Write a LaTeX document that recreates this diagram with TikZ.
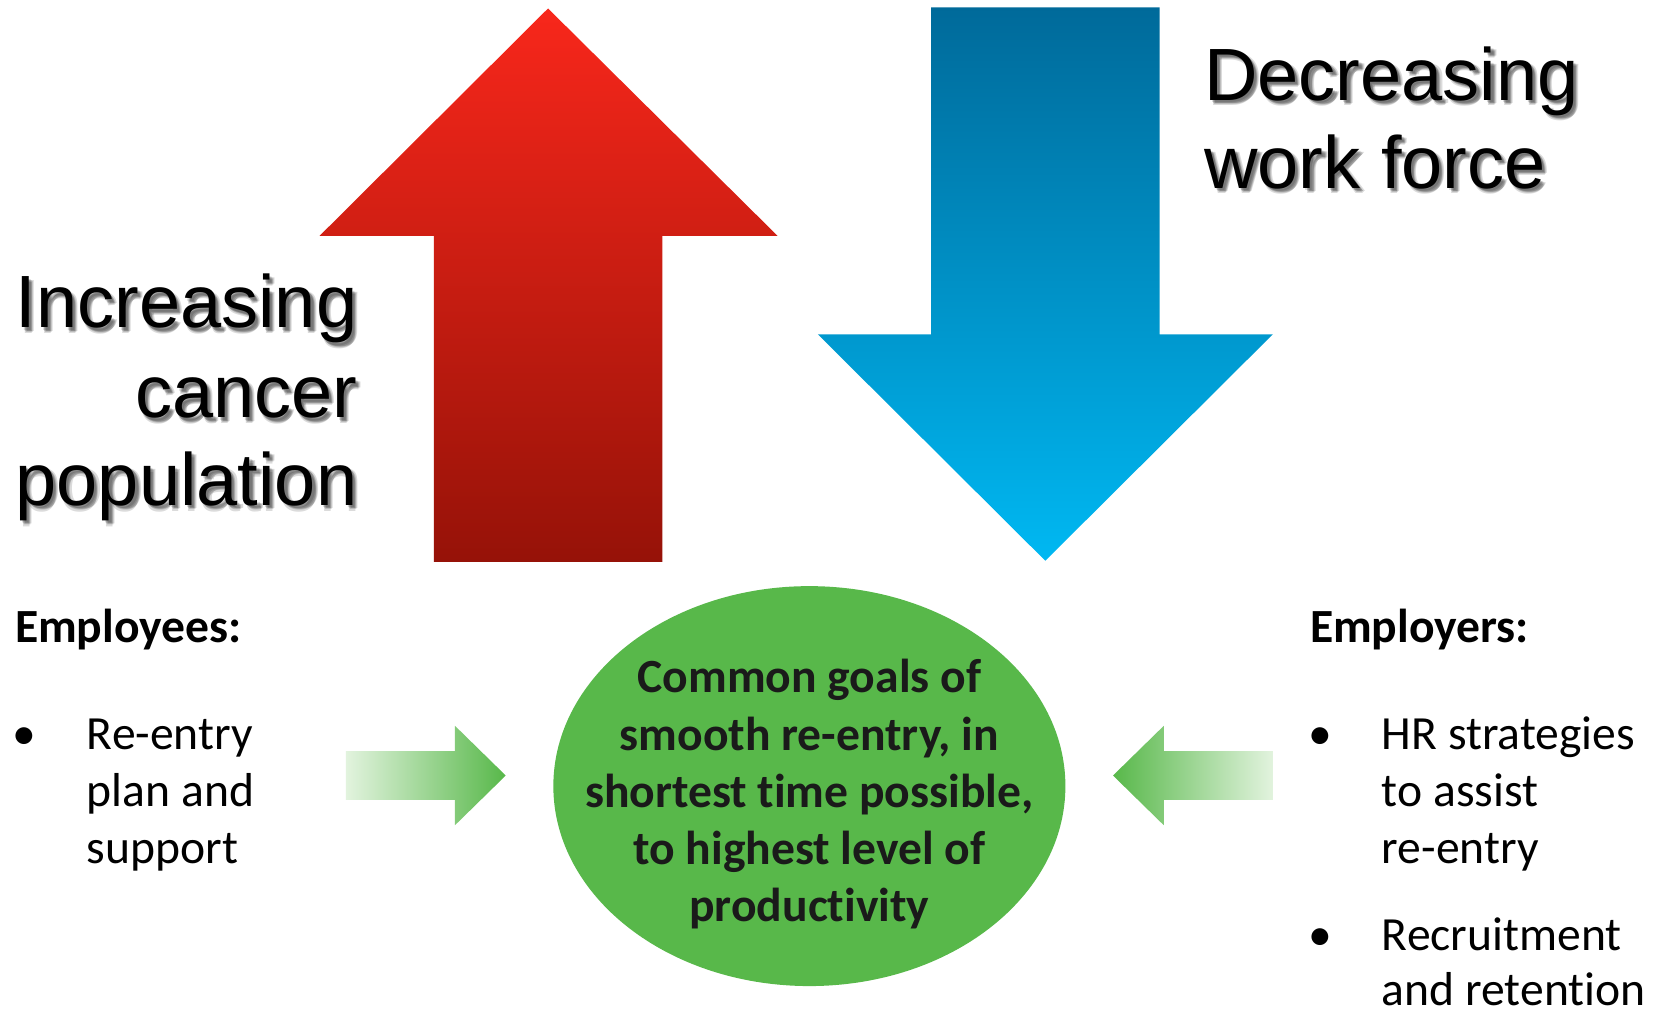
\documentclass[tikz,border=0pt]{standalone}
\usepackage{fontspec}
\setmainfont{Carlito}[Ligatures=NoCommon]
\newfontfamily\arialf{Liberation Sans}
\usetikzlibrary{shapes.geometric}
\definecolor{redtop}{HTML}{F8271B}
\definecolor{redbot}{HTML}{961208}
\definecolor{bluetop}{HTML}{006A9A}
\definecolor{bluebot}{HTML}{00B8F2}
\definecolor{goalgreen}{HTML}{58B84A}
\definecolor{palegreen}{HTML}{E2F3DE}
\definecolor{txtdark}{HTML}{1A1A1A}
\begin{document}
\begin{tikzpicture}[x=1pt,y=-1pt,
  bigtxt/.style={font=\arialf\fontsize{70}{85}\selectfont, inner sep=0, text=black},
  bigshadow/.style={bigtxt, text=black, opacity=0.14},
  bodytxt/.style={font=\fontsize{45}{54}\selectfont, inner sep=0, text=black},
  headtxt/.style={bodytxt, font=\bfseries\fontsize{45}{54}\selectfont},
  goaltxt/.style={font=\bfseries\fontsize{45}{54}\selectfont, inner sep=0, text=txtdark},
  bulletmark/.style={bodytxt}]
\useasboundingbox (0,0) rectangle (1569,955.5);

% red up arrow
\shade[top color=redtop, bottom color=redbot]
  (518,8) -- (735,223) -- (626,223) -- (626,531) -- (410,531) -- (410,223) -- (302,223) -- cycle;
% blue down arrow
\shade[top color=bluetop, bottom color=bluebot]
  (880,7) -- (1096,7) -- (1096,316) -- (1203,316) -- (988,530) -- (773,316) -- (880,316) -- cycle;

% big titles with soft shadow
\foreach \dx/\dy in {2/2,3/3,4/4,3/5,5/3}{
  \node[bigshadow, anchor=base east] at (338+\dx,310+\dy) {Increasing};
  \node[bigshadow, anchor=base east] at (338+\dx,395+\dy) {cancer};
  \node[bigshadow, anchor=base east] at (338+\dx,478+\dy) {population};
  \node[bigshadow, anchor=base west] at (1138+\dx,95+\dy) {Decreasing};
  \node[bigshadow, anchor=base west] at (1138+\dx,178+\dy) {work force};
}
\node[bigtxt, anchor=base east] (inc1) at (338,310) {Increasing};
\node[bigtxt, anchor=base east] (inc2) at (338,395) {cancer};
\node[bigtxt, anchor=base east] (inc3) at (338,478) {population};
\node[bigtxt, anchor=base west] (dec1) at (1138,95) {Decreasing};
\node[bigtxt, anchor=base west] (dec2) at (1138,178) {work force};

% central ellipse
\node[ellipse, fill=goalgreen, minimum width=484, minimum height=378, inner sep=0] (goal) at (765,743) {};
\node[goaltxt, anchor=base] (g1) at (765,655) {Common goals of};
\node[goaltxt, anchor=base] (g2) at (765,709) {smooth re-entry, in};
\node[goaltxt, anchor=base] (g3) at (765,763) {shortest time possible,};
\node[goaltxt, anchor=base] (g4) at (765,817) {to highest level of};
\node[goaltxt, anchor=base] (g5) at (765,871) {productivity};

% green arrows
\shade[left color=palegreen, right color=goalgreen]
  (327,710) -- (430,710) -- (430,686) -- (478,733) -- (430,780) -- (430,756) -- (327,756) -- cycle;
\shade[left color=goalgreen, right color=palegreen]
  (1203,710) -- (1100,710) -- (1100,686) -- (1052,733) -- (1100,780) -- (1100,756) -- (1203,756) -- cycle;

% employees
\node[headtxt, anchor=base west] (emp) at (14,607) {Employees:};
\node[bulletmark, anchor=base west] (b1) at (12,708) {•};
\node[bodytxt, anchor=base west] (e1) at (82,708) {Re-entry};
\node[bodytxt, anchor=base west] (e2) at (82,762) {plan and};
\node[bodytxt, anchor=base west] (e3) at (82,816) {support};

% employers
\node[headtxt, anchor=base west] (empr) at (1238,607) {Employers:};
\node[bulletmark, anchor=base west] (b2) at (1237,708) {•};
\node[bodytxt, anchor=base west] (r1) at (1306,708) {HR strategies};
\node[bodytxt, anchor=base west] (r2) at (1306,762) {to assist};
\node[bodytxt, anchor=base west] (r3) at (1306,816) {re-entry};
\node[bulletmark, anchor=base west] (b3) at (1237,898) {•};
\node[bodytxt, anchor=base west] (r4) at (1306,898) {Recruitment};
\node[bodytxt, anchor=base west] (r5) at (1306,950) {and retention};
\end{tikzpicture}
\end{document}
